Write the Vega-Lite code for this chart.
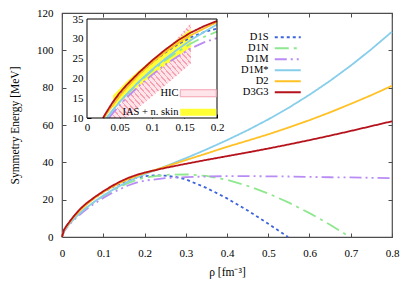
{
  "$schema": "https://vega.github.io/schema/vega-lite/v6.json",
  "width": 330,
  "height": 224,
  "autosize": "none",
  "padding": {"left": 62, "top": 13, "right": 23, "bottom": 54},
  "background": "white",
  "config": {
    "font": "Liberation Serif",
    "view": {"stroke": "#4d4d4d", "strokeWidth": 1.2},
    "axis": {"grid": false, "domain": false, "labelFont": "Liberation Serif", "titleFont": "Liberation Serif", "labelFontSize": 11, "titleFontSize": 11.5, "titleFontWeight": "normal", "labelColor": "#000", "titleColor": "#000", "tickColor": "#4d4d4d", "labelFlush": false, "labelOverlap": false},
    "legend": {"labelFont": "Liberation Serif", "labelColor": "#000"}
  },
  "datasets": {
    "curves": [
      {"model":"D1S","rho":0,"E":0},{"model":"D1S","rho":0.005,"E":3.8},{"model":"D1S","rho":0.01,"E":5.6},{"model":"D1S","rho":0.02,"E":8.6},{"model":"D1S","rho":0.0255,"E":10},{"model":"D1S","rho":0.03,"E":11.2},{"model":"D1S","rho":0.04,"E":13.6},{"model":"D1S","rho":0.05,"E":15.8},{"model":"D1S","rho":0.06,"E":17.7},{"model":"D1S","rho":0.08,"E":21.1},{"model":"D1S","rho":0.1,"E":24.0},{"model":"D1S","rho":0.12,"E":26.5},{"model":"D1S","rho":0.14,"E":28.6},{"model":"D1S","rho":0.16,"E":30.4},{"model":"D1S","rho":0.18,"E":31.7},{"model":"D1S","rho":0.2,"E":32.6},{"model":"D1S","rho":0.225,"E":33.0},{"model":"D1S","rho":0.25,"E":32.9},{"model":"D1S","rho":0.275,"E":32.2},{"model":"D1S","rho":0.3,"E":30.9},{"model":"D1S","rho":0.35,"E":26.3},{"model":"D1S","rho":0.4,"E":20.7},{"model":"D1S","rho":0.45,"E":14.2},{"model":"D1S","rho":0.5,"E":7.1},{"model":"D1S","rho":0.548,"E":0},
      {"model":"D1N","rho":0,"E":0},{"model":"D1N","rho":0.005,"E":3.3},{"model":"D1N","rho":0.01,"E":4.9},{"model":"D1N","rho":0.02,"E":7.7},{"model":"D1N","rho":0.03,"E":10.0},{"model":"D1N","rho":0.04,"E":12.1},{"model":"D1N","rho":0.05,"E":14.0},{"model":"D1N","rho":0.06,"E":15.8},{"model":"D1N","rho":0.08,"E":19.0},{"model":"D1N","rho":0.1,"E":21.9},{"model":"D1N","rho":0.12,"E":24.5},{"model":"D1N","rho":0.14,"E":26.8},{"model":"D1N","rho":0.16,"E":28.8},{"model":"D1N","rho":0.18,"E":30.5},{"model":"D1N","rho":0.2,"E":31.8},{"model":"D1N","rho":0.25,"E":33.3},{"model":"D1N","rho":0.3,"E":33.6},{"model":"D1N","rho":0.35,"E":32.7},{"model":"D1N","rho":0.4,"E":30.6},{"model":"D1N","rho":0.45,"E":27.4},{"model":"D1N","rho":0.5,"E":23.3},{"model":"D1N","rho":0.55,"E":18.4},{"model":"D1N","rho":0.6,"E":12.8},{"model":"D1N","rho":0.65,"E":6.6},{"model":"D1N","rho":0.698,"E":0},
      {"model":"D1M","rho":0,"E":0},{"model":"D1M","rho":0.005,"E":3.0},{"model":"D1M","rho":0.01,"E":4.5},{"model":"D1M","rho":0.02,"E":7.1},{"model":"D1M","rho":0.03,"E":9.3},{"model":"D1M","rho":0.0335,"E":10},{"model":"D1M","rho":0.04,"E":11.3},{"model":"D1M","rho":0.05,"E":13.2},{"model":"D1M","rho":0.06,"E":15.0},{"model":"D1M","rho":0.08,"E":18.1},{"model":"D1M","rho":0.1,"E":20.9},{"model":"D1M","rho":0.12,"E":23.4},{"model":"D1M","rho":0.14,"E":25.6},{"model":"D1M","rho":0.16,"E":27.6},{"model":"D1M","rho":0.18,"E":29.1},{"model":"D1M","rho":0.2,"E":30.2},{"model":"D1M","rho":0.25,"E":31.5},{"model":"D1M","rho":0.3,"E":32.1},{"model":"D1M","rho":0.35,"E":32.4},{"model":"D1M","rho":0.4,"E":32.6},{"model":"D1M","rho":0.45,"E":32.6},{"model":"D1M","rho":0.5,"E":32.5},{"model":"D1M","rho":0.55,"E":32.4},{"model":"D1M","rho":0.6,"E":32.2},{"model":"D1M","rho":0.65,"E":32.0},{"model":"D1M","rho":0.7,"E":31.9},{"model":"D1M","rho":0.75,"E":31.7},{"model":"D1M","rho":0.8,"E":31.5},
      {"model":"D1M*","rho":0,"E":0},{"model":"D1M*","rho":0.005,"E":3.2},{"model":"D1M*","rho":0.01,"E":4.8},{"model":"D1M*","rho":0.02,"E":7.6},{"model":"D1M*","rho":0.0305,"E":10},{"model":"D1M*","rho":0.04,"E":12.0},{"model":"D1M*","rho":0.05,"E":14.0},{"model":"D1M*","rho":0.06,"E":15.8},{"model":"D1M*","rho":0.08,"E":19.2},{"model":"D1M*","rho":0.1,"E":22.2},{"model":"D1M*","rho":0.12,"E":24.9},{"model":"D1M*","rho":0.14,"E":27.4},{"model":"D1M*","rho":0.16,"E":29.7},{"model":"D1M*","rho":0.18,"E":31.7},{"model":"D1M*","rho":0.2,"E":33.6},{"model":"D1M*","rho":0.25,"E":37.8},{"model":"D1M*","rho":0.3,"E":42.2},{"model":"D1M*","rho":0.35,"E":46.9},{"model":"D1M*","rho":0.4,"E":51.9},{"model":"D1M*","rho":0.45,"E":57.2},{"model":"D1M*","rho":0.5,"E":63.0},{"model":"D1M*","rho":0.55,"E":69.3},{"model":"D1M*","rho":0.6,"E":76.2},{"model":"D1M*","rho":0.65,"E":83.7},{"model":"D1M*","rho":0.7,"E":91.8},{"model":"D1M*","rho":0.75,"E":100.6},{"model":"D1M*","rho":0.8,"E":110.0},
      {"model":"D2","rho":0,"E":0},{"model":"D2","rho":0.005,"E":3.6},{"model":"D2","rho":0.01,"E":5.3},{"model":"D2","rho":0.02,"E":8.2},{"model":"D2","rho":0.026,"E":10},{"model":"D2","rho":0.03,"E":11.0},{"model":"D2","rho":0.04,"E":13.3},{"model":"D2","rho":0.05,"E":15.5},{"model":"D2","rho":0.06,"E":17.5},{"model":"D2","rho":0.08,"E":21.0},{"model":"D2","rho":0.1,"E":24.0},{"model":"D2","rho":0.12,"E":26.6},{"model":"D2","rho":0.14,"E":28.9},{"model":"D2","rho":0.16,"E":30.9},{"model":"D2","rho":0.18,"E":32.6},{"model":"D2","rho":0.2,"E":34.2},{"model":"D2","rho":0.25,"E":37.6},{"model":"D2","rho":0.3,"E":41.2},{"model":"D2","rho":0.35,"E":44.7},{"model":"D2","rho":0.4,"E":48.3},{"model":"D2","rho":0.45,"E":51.6},{"model":"D2","rho":0.5,"E":55.0},{"model":"D2","rho":0.55,"E":58.7},{"model":"D2","rho":0.6,"E":62.6},{"model":"D2","rho":0.65,"E":66.8},{"model":"D2","rho":0.7,"E":71.3},{"model":"D2","rho":0.75,"E":76.0},{"model":"D2","rho":0.8,"E":81.0},
      {"model":"D3G3","rho":0,"E":0},{"model":"D3G3","rho":0.005,"E":3.9},{"model":"D3G3","rho":0.01,"E":5.7},{"model":"D3G3","rho":0.02,"E":8.7},{"model":"D3G3","rho":0.0245,"E":10},{"model":"D3G3","rho":0.03,"E":11.5},{"model":"D3G3","rho":0.04,"E":14.1},{"model":"D3G3","rho":0.05,"E":16.3},{"model":"D3G3","rho":0.06,"E":18.2},{"model":"D3G3","rho":0.08,"E":21.5},{"model":"D3G3","rho":0.1,"E":24.5},{"model":"D3G3","rho":0.12,"E":27.2},{"model":"D3G3","rho":0.14,"E":29.6},{"model":"D3G3","rho":0.16,"E":31.6},{"model":"D3G3","rho":0.18,"E":33.2},{"model":"D3G3","rho":0.2,"E":34.5},{"model":"D3G3","rho":0.25,"E":37.0},{"model":"D3G3","rho":0.3,"E":39.2},{"model":"D3G3","rho":0.35,"E":41.3},{"model":"D3G3","rho":0.4,"E":43.3},{"model":"D3G3","rho":0.45,"E":45.3},{"model":"D3G3","rho":0.5,"E":47.4},{"model":"D3G3","rho":0.55,"E":49.6},{"model":"D3G3","rho":0.6,"E":51.9},{"model":"D3G3","rho":0.65,"E":54.3},{"model":"D3G3","rho":0.7,"E":56.8},{"model":"D3G3","rho":0.75,"E":59.4},{"model":"D3G3","rho":0.8,"E":62.0}
    ],
    "bands": [
      {"band":"HIC","rho":0.035,"lo":10,"hi":10},{"band":"HIC","rho":0.05,"lo":10,"hi":13.3},{"band":"HIC","rho":0.06,"lo":10,"hi":15.4},{"band":"HIC","rho":0.08,"lo":12.7,"hi":19.3},{"band":"HIC","rho":0.1,"lo":15.4,"hi":23.0},{"band":"HIC","rho":0.12,"lo":18.2,"hi":26.7},{"band":"HIC","rho":0.14,"lo":21.0,"hi":30.3},{"band":"HIC","rho":0.16,"lo":23.8,"hi":34.0},
      {"band":"IAS + n. skin","rho":0.04,"lo":12.3,"hi":15.6},{"band":"IAS + n. skin","rho":0.06,"lo":15.4,"hi":19.0},{"band":"IAS + n. skin","rho":0.08,"lo":18.2,"hi":22.0},{"band":"IAS + n. skin","rho":0.1,"lo":20.8,"hi":24.7},{"band":"IAS + n. skin","rho":0.12,"lo":23.3,"hi":27.3},{"band":"IAS + n. skin","rho":0.14,"lo":25.7,"hi":29.9},{"band":"IAS + n. skin","rho":0.16,"lo":28.0,"hi":32.5}
    ]
  },
  "resolve": {"scale": {"x": "independent", "y": "independent"}},
  "layer": [
    {
      "resolve": {"axis": {"x": "independent", "y": "independent"}},
      "layer": [
        {
          "data": {"name": "curves"},
          "mark": {"type": "line", "strokeWidth": 1.8},
          "encoding": {
            "x": {"field": "rho", "type": "quantitative", "scale": {"domain": [0, 0.8], "nice": false, "zero": false},
                  "axis": {"orient": "bottom", "values": [0, 0.1, 0.2, 0.3, 0.4, 0.5, 0.6, 0.7, 0.8], "format": "~g", "title": "ρ [fm⁻³]", "tickSize": -4, "labelPadding": 14, "titlePadding": 8}},
            "y": {"field": "E", "type": "quantitative", "scale": {"domain": [0, 120], "nice": false},
                  "axis": {"orient": "left", "values": [0, 20, 40, 60, 80, 100, 120], "title": "Symmetry Energy [MeV]", "tickSize": -4, "labelPadding": 13, "titlePadding": 16}},
            "color": {"field": "model", "type": "nominal",
                      "scale": {"domain": ["D1S", "D1N", "D1M", "D1M*", "D2", "D3G3"], "range": ["#3d63dd", "#8fe88f", "#b98cf5", "#87ceeb", "#ffc125", "#b5121b"]},
                      "legend": {"orient": "none", "legendX": 220.5, "legendY": 19, "title": null, "padding": 0, "symbolType": "M-4,0H4", "symbolSize": 42.25, "symbolStrokeWidth": 1.8, "labelAlign": "right", "labelOffset": -24.5, "labelFontSize": 10.5, "rowPadding": 0, "labelLimit": 0}},
            "strokeDash": {"field": "model", "type": "nominal",
                      "scale": {"domain": ["D1S", "D1N", "D1M", "D1M*", "D2", "D3G3"], "range": [[3, 3], [14, 5, 3, 5], [12, 4, 2, 4, 2, 4], [1, 0], [1, 0], [1, 0]]},
                      "legend": {"orient": "none", "legendX": 220.5, "legendY": 19, "title": null, "padding": 0, "symbolType": "M-4,0H4", "symbolSize": 42.25, "symbolStrokeWidth": 1.8, "labelAlign": "right", "labelOffset": -24.5, "labelFontSize": 10.5, "rowPadding": 0, "labelLimit": 0}}
          }
        },
        {
          "data": {"name": "curves"},
          "mark": {"type": "line", "opacity": 0},
          "encoding": {
            "x": {"field": "rho", "type": "quantitative", "scale": {"domain": [0, 0.8], "nice": false, "zero": false},
                  "axis": {"orient": "top", "values": [0, 0.1, 0.2, 0.3, 0.4, 0.5, 0.6, 0.7, 0.8], "labels": false, "title": null, "tickSize": -4}},
            "y": {"field": "E", "type": "quantitative", "scale": {"domain": [0, 120], "nice": false},
                  "axis": {"orient": "right", "values": [0, 20, 40, 60, 80, 100, 120], "labels": false, "title": null, "tickSize": -4}}
          }
        }
      ]
    },
    {
      "layer": [
        {
          "data": {"values": [{}]},
          "mark": {"type": "rect", "fill": "white", "stroke": null},
          "encoding": {
            "x": {"datum": 0, "type": "quantitative", "scale": {"domain": [0, 0.2], "range": [25, 155], "nice": false, "zero": false},
                  "axis": {"orient": "bottom", "offset": -119, "values": [0, 0.05, 0.1, 0.15, 0.2], "format": "~g", "title": null, "tickSize": -4, "labelPadding": 7, "tickColor": "#000"}},
            "x2": {"datum": 0.2},
            "y": {"datum": 10, "type": "quantitative", "scale": {"domain": [10, 35], "range": [105, 6], "nice": false, "zero": false},
                  "axis": {"orient": "left", "offset": -25, "values": [10, 15, 20, 25, 30, 35], "title": null, "tickSize": -4, "labelPadding": 8, "tickColor": "#000"}},
            "y2": {"datum": 35}
          }
        },
        {
          "data": {"name": "bands"},
          "mark": {"type": "area", "opacity": 1},
          "encoding": {
            "x": {"field": "rho", "type": "quantitative", "scale": {"domain": [0, 0.2], "range": [25, 155], "nice": false, "zero": false}, "title": null},
            "y": {"field": "lo", "type": "quantitative", "scale": {"domain": [10, 35], "range": [105, 6], "nice": false, "zero": false}, "title": null},
            "y2": {"field": "hi"},
            "fill": {"field": "band", "type": "nominal",
                     "scale": {"domain": ["HIC", "IAS + n. skin"], "range": ["#ffe4ea", "#ffff33"]},
                     "legend": {"orient": "none", "legendX": 131, "legendY": 75, "title": null, "padding": 0, "symbolType": "M-5.14,-1H5.14V1H-5.14Z", "symbolSize": 49, "symbolOpacity": 1, "labelAlign": "right", "labelOffset": -25, "labelFontSize": 10.5, "rowPadding": 7, "labelLimit": 0,
                                "encode": {"symbols": {"update": {"stroke": {"signal": "datum.value === 'HIC' ? '#f4a0b0' : 'transparent'"}, "strokeWidth": {"value": 1}}}}}}
          }
        },
        {
          "data": {"name": "bands"},
          "transform": [{"filter": "datum.band === 'HIC'"}],
          "mark": {"type": "area", "opacity": 1, "fill": {"gradient": "linear", "x1": 0, "y1": 1, "x2": 1, "y2": 0, "stops": [
            {"offset":0,"color":"#f6a2b3"},{"offset":0.0094,"color":"#f6a2b3"},{"offset":0.0094,"color":"rgba(255,255,255,0)"},{"offset":0.0313,"color":"rgba(255,255,255,0)"},
            {"offset":0.0313,"color":"#f6a2b3"},{"offset":0.0406,"color":"#f6a2b3"},{"offset":0.0406,"color":"rgba(255,255,255,0)"},{"offset":0.0625,"color":"rgba(255,255,255,0)"},
            {"offset":0.0625,"color":"#f6a2b3"},{"offset":0.0719,"color":"#f6a2b3"},{"offset":0.0719,"color":"rgba(255,255,255,0)"},{"offset":0.0938,"color":"rgba(255,255,255,0)"},
            {"offset":0.0938,"color":"#f6a2b3"},{"offset":0.1031,"color":"#f6a2b3"},{"offset":0.1031,"color":"rgba(255,255,255,0)"},{"offset":0.125,"color":"rgba(255,255,255,0)"},
            {"offset":0.125,"color":"#f6a2b3"},{"offset":0.1344,"color":"#f6a2b3"},{"offset":0.1344,"color":"rgba(255,255,255,0)"},{"offset":0.1563,"color":"rgba(255,255,255,0)"},
            {"offset":0.1563,"color":"#f6a2b3"},{"offset":0.1656,"color":"#f6a2b3"},{"offset":0.1656,"color":"rgba(255,255,255,0)"},{"offset":0.1875,"color":"rgba(255,255,255,0)"},
            {"offset":0.1875,"color":"#f6a2b3"},{"offset":0.1969,"color":"#f6a2b3"},{"offset":0.1969,"color":"rgba(255,255,255,0)"},{"offset":0.2188,"color":"rgba(255,255,255,0)"},
            {"offset":0.2188,"color":"#f6a2b3"},{"offset":0.2281,"color":"#f6a2b3"},{"offset":0.2281,"color":"rgba(255,255,255,0)"},{"offset":0.25,"color":"rgba(255,255,255,0)"},
            {"offset":0.25,"color":"#f6a2b3"},{"offset":0.2594,"color":"#f6a2b3"},{"offset":0.2594,"color":"rgba(255,255,255,0)"},{"offset":0.2813,"color":"rgba(255,255,255,0)"},
            {"offset":0.2813,"color":"#f6a2b3"},{"offset":0.2906,"color":"#f6a2b3"},{"offset":0.2906,"color":"rgba(255,255,255,0)"},{"offset":0.3125,"color":"rgba(255,255,255,0)"},
            {"offset":0.3125,"color":"#f6a2b3"},{"offset":0.3219,"color":"#f6a2b3"},{"offset":0.3219,"color":"rgba(255,255,255,0)"},{"offset":0.3438,"color":"rgba(255,255,255,0)"},
            {"offset":0.3438,"color":"#f6a2b3"},{"offset":0.3531,"color":"#f6a2b3"},{"offset":0.3531,"color":"rgba(255,255,255,0)"},{"offset":0.375,"color":"rgba(255,255,255,0)"},
            {"offset":0.375,"color":"#f6a2b3"},{"offset":0.3844,"color":"#f6a2b3"},{"offset":0.3844,"color":"rgba(255,255,255,0)"},{"offset":0.4063,"color":"rgba(255,255,255,0)"},
            {"offset":0.4063,"color":"#f6a2b3"},{"offset":0.4156,"color":"#f6a2b3"},{"offset":0.4156,"color":"rgba(255,255,255,0)"},{"offset":0.4375,"color":"rgba(255,255,255,0)"},
            {"offset":0.4375,"color":"#f6a2b3"},{"offset":0.4469,"color":"#f6a2b3"},{"offset":0.4469,"color":"rgba(255,255,255,0)"},{"offset":0.4688,"color":"rgba(255,255,255,0)"},
            {"offset":0.4688,"color":"#f6a2b3"},{"offset":0.4781,"color":"#f6a2b3"},{"offset":0.4781,"color":"rgba(255,255,255,0)"},{"offset":0.5,"color":"rgba(255,255,255,0)"},
            {"offset":0.5,"color":"#f6a2b3"},{"offset":0.5094,"color":"#f6a2b3"},{"offset":0.5094,"color":"rgba(255,255,255,0)"},{"offset":0.5313,"color":"rgba(255,255,255,0)"},
            {"offset":0.5313,"color":"#f6a2b3"},{"offset":0.5406,"color":"#f6a2b3"},{"offset":0.5406,"color":"rgba(255,255,255,0)"},{"offset":0.5625,"color":"rgba(255,255,255,0)"},
            {"offset":0.5625,"color":"#f6a2b3"},{"offset":0.5719,"color":"#f6a2b3"},{"offset":0.5719,"color":"rgba(255,255,255,0)"},{"offset":0.5938,"color":"rgba(255,255,255,0)"},
            {"offset":0.5938,"color":"#f6a2b3"},{"offset":0.6031,"color":"#f6a2b3"},{"offset":0.6031,"color":"rgba(255,255,255,0)"},{"offset":0.625,"color":"rgba(255,255,255,0)"},
            {"offset":0.625,"color":"#f6a2b3"},{"offset":0.6344,"color":"#f6a2b3"},{"offset":0.6344,"color":"rgba(255,255,255,0)"},{"offset":0.6563,"color":"rgba(255,255,255,0)"},
            {"offset":0.6563,"color":"#f6a2b3"},{"offset":0.6656,"color":"#f6a2b3"},{"offset":0.6656,"color":"rgba(255,255,255,0)"},{"offset":0.6875,"color":"rgba(255,255,255,0)"},
            {"offset":0.6875,"color":"#f6a2b3"},{"offset":0.6969,"color":"#f6a2b3"},{"offset":0.6969,"color":"rgba(255,255,255,0)"},{"offset":0.7188,"color":"rgba(255,255,255,0)"},
            {"offset":0.7188,"color":"#f6a2b3"},{"offset":0.7281,"color":"#f6a2b3"},{"offset":0.7281,"color":"rgba(255,255,255,0)"},{"offset":0.75,"color":"rgba(255,255,255,0)"},
            {"offset":0.75,"color":"#f6a2b3"},{"offset":0.7594,"color":"#f6a2b3"},{"offset":0.7594,"color":"rgba(255,255,255,0)"},{"offset":0.7813,"color":"rgba(255,255,255,0)"},
            {"offset":0.7813,"color":"#f6a2b3"},{"offset":0.7906,"color":"#f6a2b3"},{"offset":0.7906,"color":"rgba(255,255,255,0)"},{"offset":0.8125,"color":"rgba(255,255,255,0)"},
            {"offset":0.8125,"color":"#f6a2b3"},{"offset":0.8219,"color":"#f6a2b3"},{"offset":0.8219,"color":"rgba(255,255,255,0)"},{"offset":0.8438,"color":"rgba(255,255,255,0)"},
            {"offset":0.8438,"color":"#f6a2b3"},{"offset":0.8531,"color":"#f6a2b3"},{"offset":0.8531,"color":"rgba(255,255,255,0)"},{"offset":0.875,"color":"rgba(255,255,255,0)"},
            {"offset":0.875,"color":"#f6a2b3"},{"offset":0.8844,"color":"#f6a2b3"},{"offset":0.8844,"color":"rgba(255,255,255,0)"},{"offset":0.9063,"color":"rgba(255,255,255,0)"},
            {"offset":0.9063,"color":"#f6a2b3"},{"offset":0.9156,"color":"#f6a2b3"},{"offset":0.9156,"color":"rgba(255,255,255,0)"},{"offset":0.9375,"color":"rgba(255,255,255,0)"},
            {"offset":0.9375,"color":"#f6a2b3"},{"offset":0.9469,"color":"#f6a2b3"},{"offset":0.9469,"color":"rgba(255,255,255,0)"},{"offset":0.9688,"color":"rgba(255,255,255,0)"},
            {"offset":0.9688,"color":"#f6a2b3"},{"offset":0.9781,"color":"#f6a2b3"},{"offset":0.9781,"color":"rgba(255,255,255,0)"},{"offset":1,"color":"rgba(255,255,255,0)"}
          ]}},
          "encoding": {
            "x": {"field": "rho", "type": "quantitative", "scale": {"domain": [0, 0.2], "range": [25, 155], "nice": false, "zero": false}, "title": null},
            "y": {"field": "lo", "type": "quantitative", "scale": {"domain": [10, 35], "range": [105, 6], "nice": false, "zero": false}, "title": null},
            "y2": {"field": "hi"}
          }
        },
        {
          "data": {"name": "bands"},
          "transform": [{"filter": "datum.band !== 'HIC'"}],
          "mark": {"type": "area", "opacity": 1, "fill": "#ffff33"},
          "encoding": {
            "x": {"field": "rho", "type": "quantitative", "scale": {"domain": [0, 0.2], "range": [25, 155], "nice": false, "zero": false}, "title": null},
            "y": {"field": "lo", "type": "quantitative", "scale": {"domain": [10, 35], "range": [105, 6], "nice": false, "zero": false}, "title": null},
            "y2": {"field": "hi"}
          }
        },
        {
          "data": {"name": "curves"},
          "transform": [{"filter": "datum.rho <= 0.2001 && datum.E >= 9.99"}],
          "mark": {"type": "line", "strokeWidth": 1.8},
          "encoding": {
            "x": {"field": "rho", "type": "quantitative", "scale": {"domain": [0, 0.2], "range": [25, 155], "nice": false, "zero": false}, "title": null},
            "y": {"field": "E", "type": "quantitative", "scale": {"domain": [10, 35], "range": [105, 6], "nice": false, "zero": false}, "title": null},
            "color": {"field": "model", "type": "nominal"},
            "strokeDash": {"field": "model", "type": "nominal"}
          }
        },
        {
          "data": {"values": [{}]},
          "mark": {"type": "rect", "fill": null, "stroke": "#000", "strokeWidth": 1, "fillOpacity": 0},
          "encoding": {
            "x": {"datum": 0, "type": "quantitative", "scale": {"domain": [0, 0.2], "range": [25, 155], "nice": false, "zero": false}},
            "x2": {"datum": 0.2},
            "y": {"datum": 10, "type": "quantitative", "scale": {"domain": [10, 35], "range": [105, 6], "nice": false, "zero": false}},
            "y2": {"datum": 35}
          }
        }
      ]
    }
  ]
}
